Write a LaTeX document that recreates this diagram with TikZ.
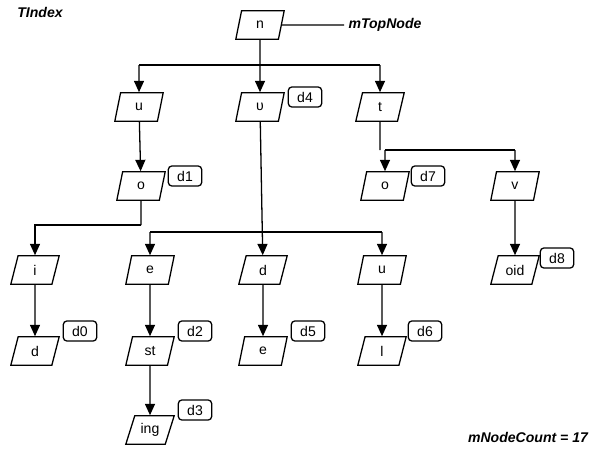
\documentclass[tikz,border=0pt]{standalone}
\usepackage{fontspec}
\setmainfont{Liberation Sans}
\usetikzlibrary{shapes.geometric,arrows.meta}
\tikzset{
para/.style={trapezium, trapezium left angle=60, trapezium right angle=120, trapezium stretches body=true, draw=black, fill=white, minimum width=1.45cm, minimum height=0.85cm, inner sep=1pt, font=\large},
tag/.style={rectangle, rounded corners=3pt, draw=black, fill=white, minimum width=1.0cm, minimum height=0.6cm, inner sep=1pt, font=\large},
note/.style={font=\large\bfseries\itshape},
arr/.style={-{Triangle[width=3mm,length=3.4mm]}},
}
\begin{document}
\begin{tikzpicture}[x=0.03cm, y=-0.03cm, line width=1.1pt]
    \useasboundingbox (0,0) rectangle (600,451);

    \node[note] (title) at(40,12)  {TIndex};
    \node[note] (count) at(528,437)  {mNodeCount = 17};

    \node[para] (n) at(260,25)  {n};
    \node[note] (top) at(385,25)  {mTopNode};

    \node[para] (u1) at(139,107)  {u};
    \node[para] (v1) at(260,107)  {υ};
    \node[tag] (d4) at(305,97)  {d4};
    \node[para] (t) at(380,107)  {t};

    \node[para] (o1) at(141,186)  {o};
    \node[tag] (d1) at(185,176)  {d1};
    \node[para] (o2) at(385,186)  {o};
    \node[tag] (d7) at(428,176)  {d7};
    \node[para] (v) at(515,186)  {v};

    \node[para] (i) at(35,270)  {i};
    \node[para] (e1) at(150,270)  {e};
    \node[para] (d) at(263,270)  {d};
    \node[para] (u2) at(382,270)  {u};
    \node[para] (oid) at(515,270)  {oid};
    \node[tag] (d8) at(557,258)  {d8};

    \node[para] (dd) at(35,351)  {d};
    \node[tag] (d0) at(80,331)  {d0};
    \node[para] (st) at(150,351)  {st};
    \node[tag] (d2) at(195,331)  {d2};
    \node[para] (e2) at(263,351)  {e};
    \node[tag] (d5) at(308,331)  {d5};
    \node[para] (l) at(382,351)  {l};
    \node[tag] (d6) at(425,331)  {d6};

    \node[para] (ing) at(150,430)  {ing};
    \node[tag] (d3) at(195,410)  {d3};

    \coordinate (b1) at(260,65);
    \coordinate (b2) at(380,150);
    \coordinate (b3) at(141,225);
    \coordinate (b4) at(260,232);

    \draw (n.east) -- (top.west);
    \draw[arr] (n) -- (v1);
    \draw (b1 -| u1) -- (b1 -| t);
    \draw[arr] (b1 -| u1) -- (u1);
    \draw[arr] (b1 -| t) -- (t);

    \draw[arr] (u1) -- (o1);
    \draw (o1) -- (b3);
    \draw[arr] (b3) -| (i);
    \draw[arr] (i) -- (dd);

    \draw[arr] (v1) -- (d);
    \draw (b4 -| e1) -- (b4 -| u2);
    \draw[arr] (b4 -| e1) -- (e1);
    \draw[arr] (b4 -| u2) -- (u2);
    \draw[arr] (e1) -- (st);
    \draw[arr] (st) -- (ing);
    \draw[arr] (d) -- (e2);
    \draw[arr] (u2) -- (l);

    \draw (t) -- (b2);
    \draw (b2 -| o2) -- (b2 -| v);
    \draw[arr] (b2 -| o2) -- (o2);
    \draw[arr] (b2 -| v) -- (v);
    \draw[arr] (v) -- (oid);
\end{tikzpicture}
\end{document}
